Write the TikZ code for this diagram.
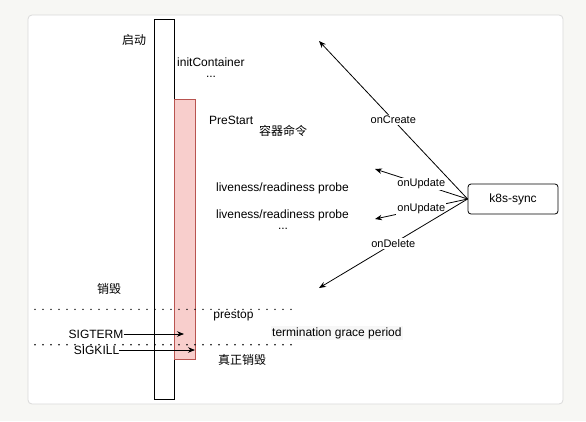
\documentclass[tikz,border=0pt]{standalone}
\usepackage{fontspec}
\setmainfont{Liberation Sans}
\newfontfamily\cjk{Noto Sans CJK SC}
\usetikzlibrary{arrows.meta}
\definecolor{bgc}{HTML}{F7F7F4}
\definecolor{panelline}{HTML}{DADADA}
\definecolor{pinkfill}{HTML}{F8CECC}
\definecolor{pinkline}{HTML}{B85450}
\begin{document}
\begin{tikzpicture}[x=1pt,y=-1pt,
  txt/.style={inner sep=0pt,font=\fontsize{12}{14}\selectfont},
  lbl/.style={fill=white,inner sep=1pt,font=\fontsize{11}{13}\selectfont},
  arr/.style={-{Stealth[length=7pt,width=5.5pt]},line width=0.8pt},
  dotline/.style={line width=1.6pt,line cap=round,dash pattern=on 0pt off 8pt}]
\fill[bgc] (0,0) rectangle (586,421);
\useasboundingbox (0,0) rectangle (586,421);
\draw[panelline, fill=white, rounded corners=4pt, line width=0.8pt] (28,15) rectangle (563,404);
% lifeline
\node[draw, line width=0.8pt, minimum width=20pt, minimum height=380pt, inner sep=0pt, anchor=north west] (life) at (154,19) {};
\node[draw=pinkline, fill=pinkfill, line width=0.8pt, minimum width=20.5pt, minimum height=260pt, inner sep=0pt, anchor=north west] (pink) at (174,99) {};
% dotted lines
\coordinate (d1a) at (35,309.3);
\coordinate (d1b) at (293,309.3);
\coordinate (d2a) at (35,344.7);
\coordinate (d2b) at (293,344.7);
\draw[dotline] (d1a) -- (d1b);
\draw[dotline] (d2a) -- (d2b);
% texts
\node[txt] (qd) at (134,40) {\cjk 启动};
\node[txt, anchor=west] (init) at (177,62) {initContainer};
\node[txt] (dots1) at (211,77) {...};
\node[txt, anchor=west] (prestart) at (209,120) {PreStart};
\node[txt] (cmd) at (283,131) {\cjk 容器命令};
\node[txt] (lp1) at (282.5,188) {liveness/readiness probe};
\node[txt] (lp2) at (282.5,215) {liveness/readiness probe};
\node[txt] (dots2) at (283,229) {...};
\node[txt] (xh) at (109,289) {\cjk 销毁};
\node[txt] (prestop) at (233.5,316) {prestop};
\node[txt, anchor=west, fill=black!3, inner sep=1pt] (tgp) at (271,333) {termination grace period};
\node[txt] (sigterm) at (96,334) {SIGTERM};
\node[txt] (sigkill) at (96.5,350) {SIGKILL};
\node[txt] (zzxh) at (242,360) {\cjk 真正销毁};
% signal arrows
\coordinate (t1) at (184,334);
\coordinate (t2) at (195,350);
\draw[arr] (sigterm.east) -- (t1);
\draw[arr] (sigkill.east) -- (t2);
% k8s-sync
\node[draw, rounded corners=3pt, line width=0.8pt, minimum width=90pt, minimum height=30pt, txt] (k8s) at (513,199) {k8s-sync};
\coordinate (c1) at (319,41);
\coordinate (c2) at (375,169);
\coordinate (c3) at (375,219);
\coordinate (c4) at (319,288);
\draw[arr] (k8s.west) -- node[lbl]{onCreate} (c1);
\draw[arr] (k8s.west) -- node[lbl]{onUpdate} (c2);
\draw[arr] (k8s.west) -- node[lbl]{onUpdate} (c3);
\draw[arr] (k8s.west) -- node[lbl]{onDelete} (c4);
\end{tikzpicture}
\end{document}
